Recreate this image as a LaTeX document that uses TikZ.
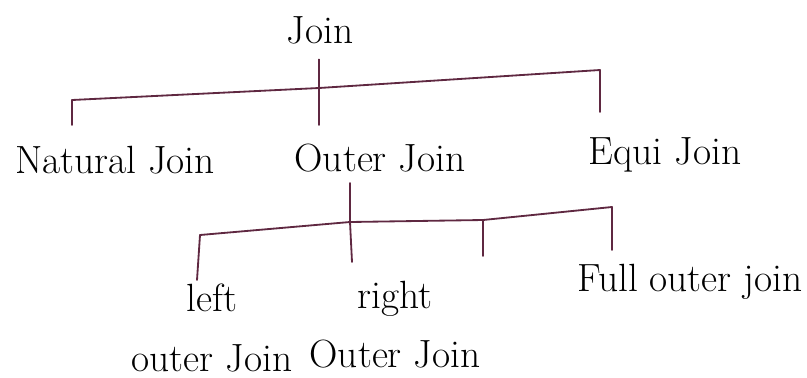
\documentclass[tikz,border=0pt]{standalone}
\usetikzlibrary{positioning}

\definecolor{inkline}{RGB}{95,40,65}

\tikzset{
    lbl/.style={font=\fontsize{28}{42}\selectfont, inner sep=1pt, align=center},
    branch/.style={inkline, line width=1.3pt, line cap=round, line join=round}
}

\begin{document}
\begin{tikzpicture}[x=0.025cm, y=-0.025cm]
    \useasboundingbox (0,0) rectangle (807,377);

    % Labels
    \node[lbl] (join) at (320,30) {Join};
    \node[lbl] (natural) at (115,160) {Natural Join};
    \node[lbl] (outer) at (380,158) {Outer Join};
    \node[lbl] (equi) at (665,155) {Equi Join};
    \node[lbl] (leftouter) at (212,328) {left\\outer Join};
    \node[lbl] (rightouter) at (395,325) {right\\Outer Join};
    \node[lbl] (fullouter) at (690,282) {Full outer join};

    % First bar
    \coordinate (b1) at (72,100);
    \coordinate (b2) at (319,88);
    \coordinate (b3) at (600,70);
    \draw[branch] (b1) -- (b2) -- (b3);
    \draw[branch] (join.south -| b2) ++(0,14) coordinate (s1) -- (b2) -- (319,125) coordinate (s2);
    \draw[branch] (b1) -- (72,125) coordinate (d1);
    \draw[branch] (b3) -- (600,112) coordinate (d3);

    % Second bar
    \coordinate (c1) at (200,235);
    \coordinate (c2) at (350,222);
    \coordinate (c3) at (483,220);
    \coordinate (c4) at (612,207);
    \draw[branch] (c1) -- (c2) -- (c3) -- (c4);
    \draw[branch] (350,183) coordinate (s3) -- (c2) -- (352,262) coordinate (s4);
    \draw[branch] (c1) -- (197,280) coordinate (d4);
    \draw[branch] (c3) -- (483,256) coordinate (d5);
    \draw[branch] (c4) -- (612,250) coordinate (d6);
\end{tikzpicture}
\end{document}
